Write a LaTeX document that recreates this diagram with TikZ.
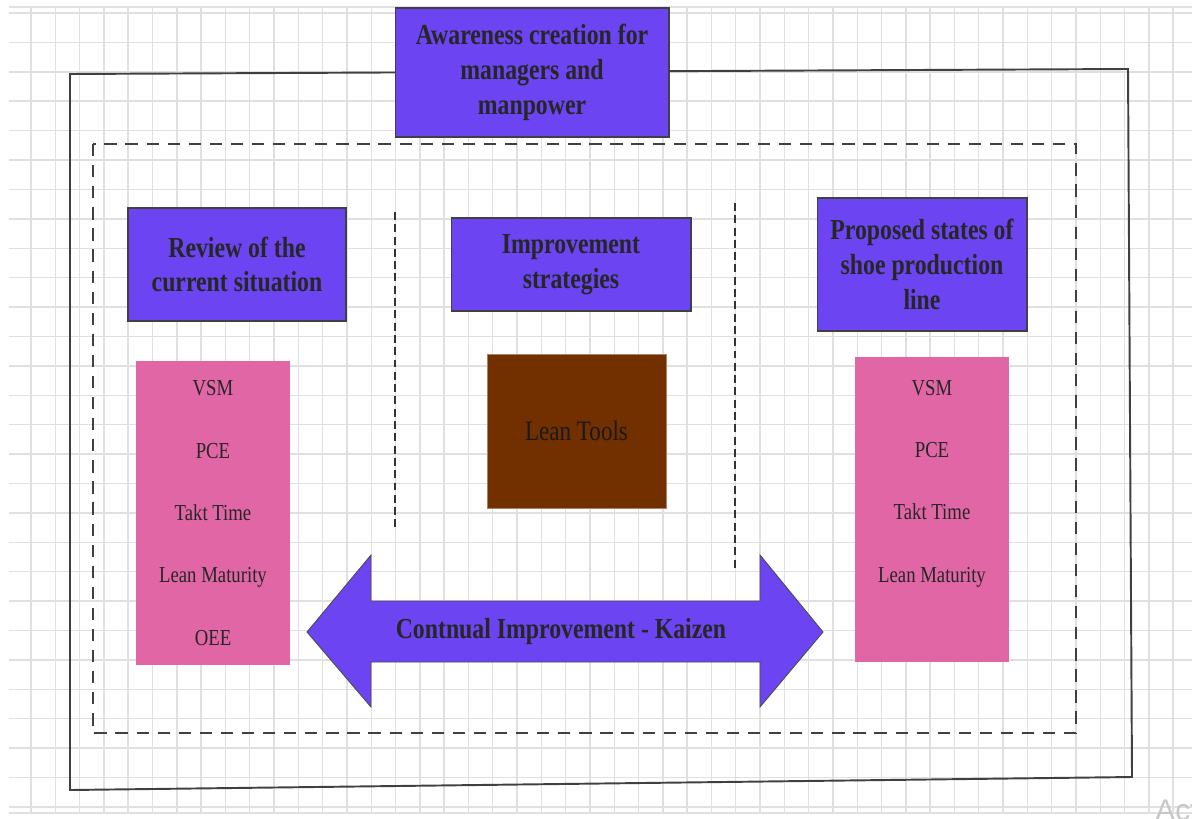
\documentclass[tikz,border=0pt]{standalone}
\usepackage{fontspec}
\setmainfont{Liberation Serif}[FakeStretch=0.82]
\newfontfamily\actfont{Liberation Sans}
\definecolor{purp}{RGB}{108,68,242}
\definecolor{pinkbox}{RGB}{225,102,166}
\definecolor{brownbox}{RGB}{114,47,0}
\definecolor{gridgray}{RGB}{224,224,224}
\begin{document}
\begin{tikzpicture}[x=0.02cm,y=-0.02cm,>=latex,
  gridline/.style={gridgray,line width=0.8pt},
  head/.style={draw=black!75,line width=0.6pt,fill=purp,text=black!85,align=center,
    font=\fontsize{16.5}{19.8}\selectfont\bfseries},
  listbox/.style={fill=pinkbox,inner sep=0pt},
  listtext/.style={text=black!85,align=center,font=\fontsize{13}{35.5}\selectfont}]
\useasboundingbox (0,0) rectangle (1192,818);
% grid
\foreach \k in {0,...,47} \draw[gridline] ({31+24.3*\k},7)--({31+24.3*\k},813);
\foreach \k in {0,...,27} \draw[gridline] (9,{13+29.4*\k})--(1192,{13+29.4*\k});
\draw[gridline] (9,7)--(1192,7);
\draw[gridline] (9,813)--(1192,813);
% frames
\draw[black!75,line width=1.1pt] (70,74)--(1128,69)--(1132,777)--(70,790)--cycle;
\draw[black!75,line width=0.8pt,dash pattern=on 7pt off 5pt] (93,144) rectangle (1076,733);
\draw[black!80,line width=0.7pt,dash pattern=on 4.5pt off 2.5pt] (395,212)--(395,528);
\draw[black!80,line width=0.7pt,dash pattern=on 4.5pt off 2.5pt] (735,203)--(735,570);
% headings
\node[head,minimum width=5.48cm,minimum height=2.58cm] (aware) at (532,72.5)
  {Awareness creation for\\managers and\\manpower};
\node[head,minimum width=4.36cm,minimum height=2.26cm] (review) at (237,264.5)
  {Review of the\\current situation};
\node[head,minimum width=4.8cm,minimum height=1.86cm] (improve) at (571,264.5)
  {Improvement\\strategies};
\node[head,minimum width=4.2cm,minimum height=2.66cm] (propose) at (922,264.5)
  {Proposed states of\\shoe production\\line};
% lists
\node[listbox,minimum width=3.08cm,minimum height=6.08cm] (listL) at (213,513) {};
\node[listtext] (itemsL) at (213,513) {VSM\\PCE\\Takt Time\\Lean Maturity\\OEE};
\node[listbox,minimum width=3.08cm,minimum height=6.1cm] (listR) at (932,509.5) {};
\node[listtext] (itemsR) at (932,483.5) {VSM\\PCE\\Takt Time\\Lean Maturity};
\node[fill=brownbox,draw=brownbox!60!white,line width=0.4pt,minimum width=3.58cm,minimum height=3.08cm,
  text=black!90,font=\fontsize{16}{19}\selectfont] (tools) at (576.5,431) {Lean Tools};
% double arrow
\draw[black!70,line width=0.5pt,fill=purp] (307,632)--(371,555)--(371,601)--(760,601)--(760,555)
  --(823,632)--(760,707)--(760,662)--(371,662)--(371,707)--cycle;
\node[text=black!85,font=\fontsize{16.5}{19.8}\selectfont\bfseries] (kaizen) at (561,632)
  {Contnual Improvement - Kaizen};
\begin{scope}
\clip (0,0) rectangle (1192,818);
\node[anchor=north west,inner sep=0pt,text=black!22,font=\actfont\fontsize{17}{20}\selectfont] (act) at (1155,800) {Act};
\end{scope}
\end{tikzpicture}
\end{document}
